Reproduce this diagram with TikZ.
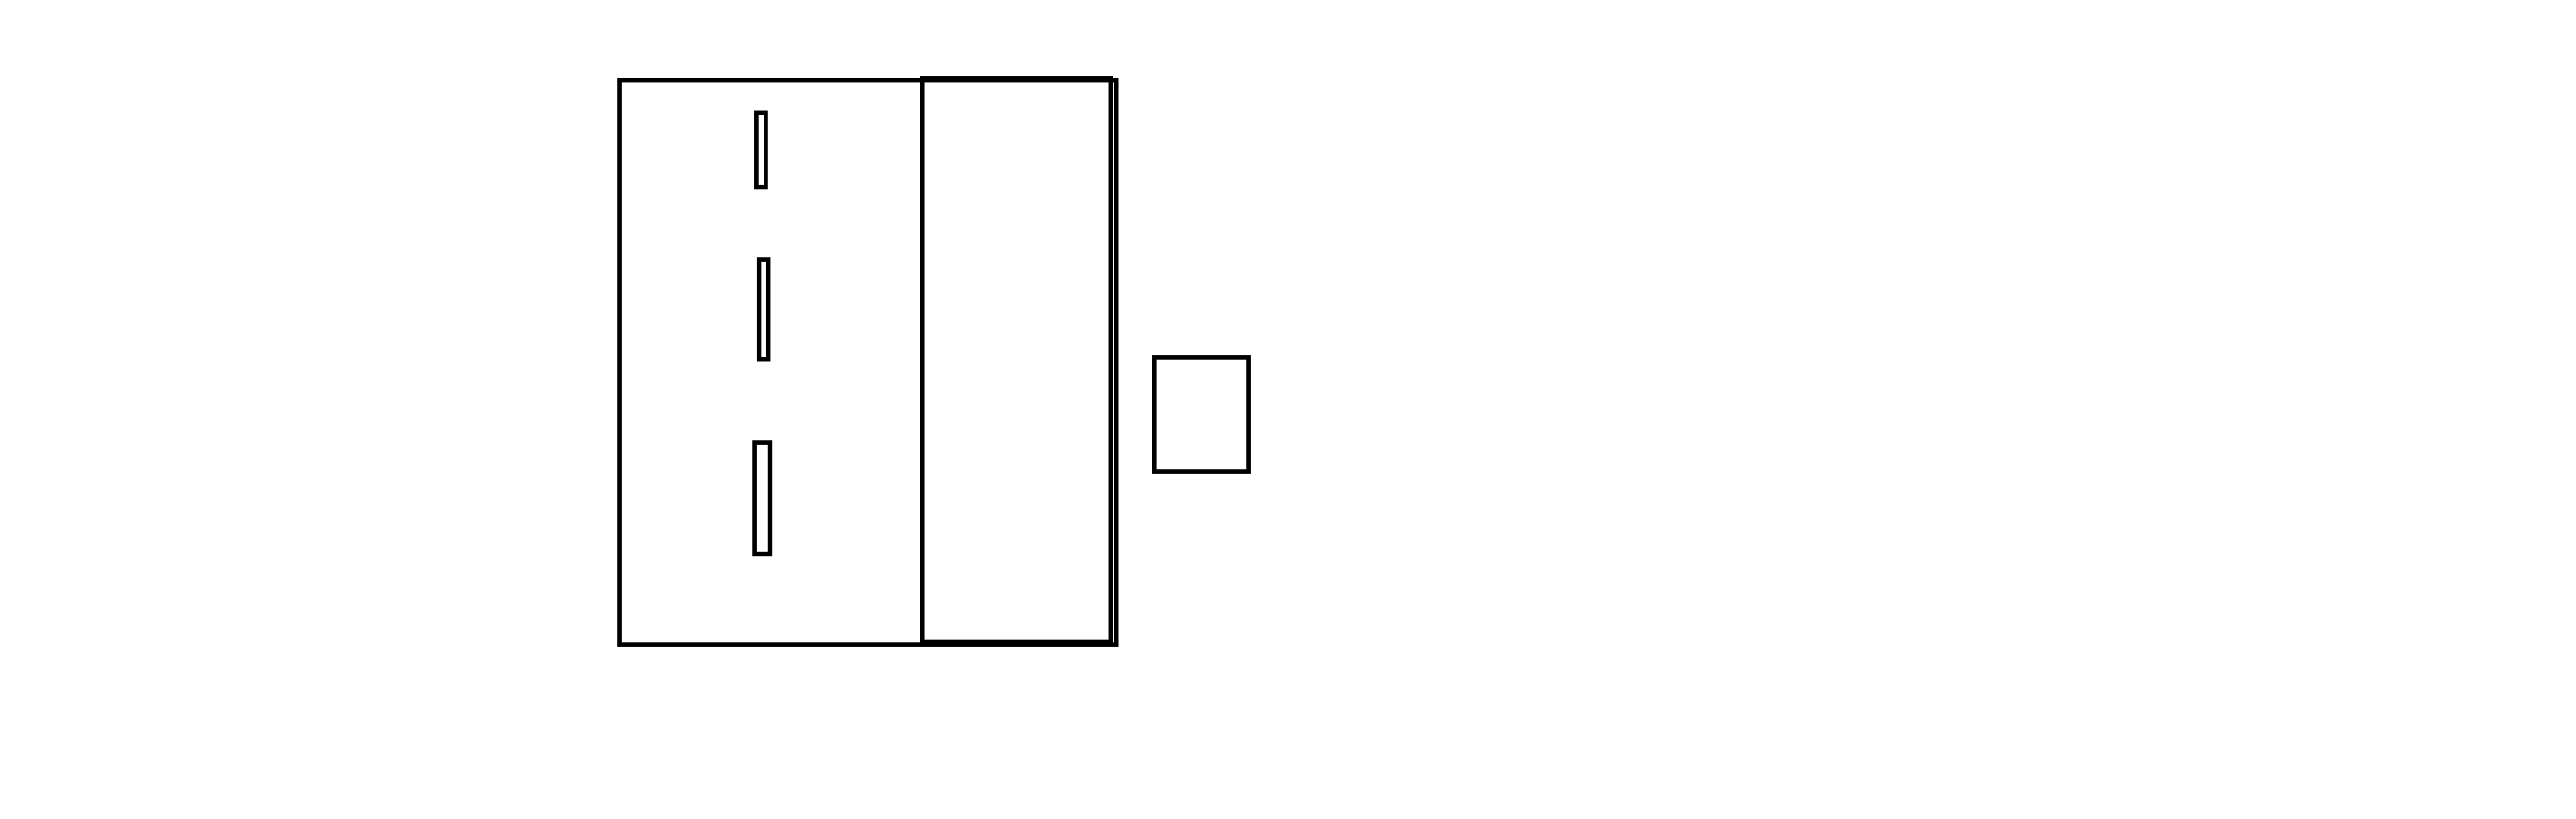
\documentclass[tikz,border=0pt]{standalone}
\begin{document}
\begin{tikzpicture}[
  outline/.style={draw=black, line width=1.33pt, fill=none}
]
\useasboundingbox (0,0) rectangle (28.42,9.04);
% outer frame
\draw[outline] (6.833,1.927) rectangle (12.313,8.157);
% inner right panel
\draw[outline] (10.173,1.957) rectangle (12.253,8.180);
% slots
\draw[outline] (8.343,6.973) rectangle (8.450,7.797);
\draw[outline] (8.373,5.077) rectangle (8.473,6.177);
\draw[outline] (8.323,2.923) rectangle (8.497,4.157);
% small box
\draw[outline] (12.733,3.833) rectangle (13.777,5.097);
\end{tikzpicture}
\end{document}
